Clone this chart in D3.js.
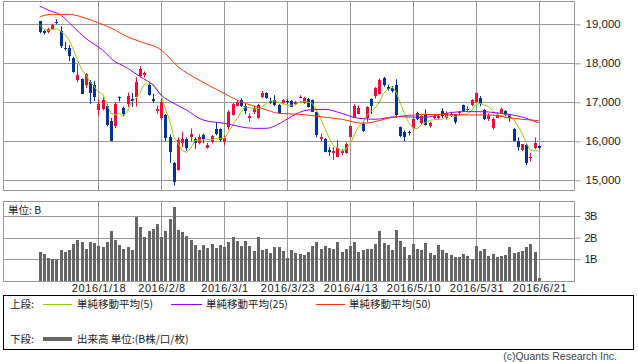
<!DOCTYPE html>
<html><head><meta charset="utf-8">
<script src="https://cdn.jsdelivr.net/npm/d3@7"></script>
<style>
body{margin:0;background:#fff}
svg{display:block}
text{font-family:"Liberation Sans","DejaVu Sans",sans-serif}
.jp{font-family:"Noto Sans CJK JP","Noto Sans CJK SC",sans-serif}
</style>
</head><body>
<svg id="c" width="638" height="362"></svg>
<script>
// ---- data (Nikkei-style daily candles) ----
const opens = [19080,18830,18800,18880,19060,18820,18400,18400,18140,17560,
17590,17450,17510,17450,16800,16820,16900,16530,16380,17130,
16860,16950,17090,17140,17670,17690,17440,17080,16780,16610,
16670,16100,15440,15270,15960,16050,16100,16060,15960,16150,
15840,15990,16320,16320,15990,16370,16670,16910,17050,16900,
16600,16750,16610,17130,17240,17030,17060,16920,16970,17030,
17030,16960,17110,16990,17090,17060,16750,16060,16070,15770,
15700,15600,15700,15690,16110,16610,16710,16450,16590,17080,
17150,17220,17630,17400,17360,17440,16370,16250,16240,16330,
16730,16470,16700,16390,16590,16600,16780,16600,16700,16690,
16720,16920,16820,16920,17010,17120,16810,16560,16330,16610,
16710,16770,16670,16320,16000,15770,15900,15590,15830,15880];
const highs = [19090,18850,18910,19010,19130,18950,18550,18470,18170,17975,
17610,17750,17570,17550,17090,17130,16960,16600,16990,17150,
16890,17250,17240,17640,17930,17790,17520,17220,16920,17090,
16700,16170,15470,16100,16240,16100,16330,16100,16180,16200,
15960,16160,16480,16330,16140,16800,16990,17060,17100,16960,
16720,16900,16960,17290,17260,17120,17180,16950,17080,17080,
17060,17030,17180,17140,17110,17070,16760,16200,16080,15850,
15850,16030,15800,15970,16400,16960,16920,16500,16900,17100,
17390,17610,17650,17450,17420,17590,16380,16280,16280,16600,
16760,16680,16820,16500,16700,16700,16850,16770,16760,16700,
16780,16940,16900,17080,17250,17160,16830,16710,16610,16730,
16860,16800,16700,16340,16100,15930,15950,15700,16100,15900];
const lows = [18770,18740,18770,18850,19000,18390,18330,18060,17760,17510,
17210,17370,16960,17030,16660,16790,16390,16000,16340,17020,
16650,16880,16880,16890,17640,17640,17170,16980,16700,16540,
16010,15450,14865,15250,15850,15760,16000,15810,15920,15950,
15810,15950,16150,15990,15900,16300,16660,16900,16880,16700,
16500,16700,16580,17110,17090,16950,16900,16700,16950,16960,
16880,16940,17100,16960,16870,16750,16100,16000,15720,15620,
15520,15590,15650,15680,16100,16600,16700,16240,16500,16700,
17100,17200,17400,17300,17250,16600,16100,16000,16150,16300,
16540,16440,16400,16350,16560,16560,16600,16560,16620,16440,
16680,16750,16780,16900,16990,16900,16540,16520,16300,16600,
16700,16640,16500,16000,15760,15750,15390,15490,15800,15790];
const closes = [18790,18769,18873,18982,19033,18451,18374,18191,17767,17698,
17219,17716,17241,17147,16956,17048,16416,16017,16959,17111,
16709,17164,17041,17518,17865,17751,17191,17045,16820,17004,
16085,15713,14953,16023,16054,15836,16197,15967,16111,16052,
15916,16140,16188,16027,16086,16747,16960,17015,16911,16783,
16642,16852,16939,17234,17117,16974,16936,16725,17049,17001,
16892,17003,17134,17104,16879,16759,16164,16123,15733,15715,
15750,15822,15751,15929,16381,16911,16848,16276,16874,16907,
17364,17572,17439,17353,17290,16666,16147,16107,16216,16565,
16579,16647,16412,16466,16653,16645,16646,16736,16655,16499,
16757,16772,16835,17068,17235,16956,16563,16642,16580,16675,
16831,16668,16601,16019,15859,15920,15434,15600,15965,15830];
// closes of the four sessions before the window (needed by the 5-day average)
const priorCloses = [19354,18987,18916,18887];
const volumes = [1.33,1.24,1.07,1.01,1.01,1.43,1.33,1.43,1.71,1.89,
1.80,1.47,1.80,1.75,1.61,1.57,1.80,2.31,1.89,1.66,
1.47,1.57,1.43,2.96,2.50,2.03,2.31,2.40,2.64,2.03,
2.31,2.87,3.43,2.36,2.26,2.08,1.89,1.66,1.43,1.66,
1.52,1.71,1.52,1.66,1.57,1.80,2.03,1.84,1.61,1.84,
1.61,1.38,2.03,1.43,1.47,1.29,1.57,1.57,1.38,1.05,
1.43,1.29,1.24,1.19,1.33,1.61,1.80,1.47,1.61,1.52,
1.47,1.80,1.33,1.47,1.61,1.80,1.33,1.43,1.47,1.47,
1.71,2.31,1.75,1.66,1.43,2.36,1.84,1.57,1.19,1.71,
1.47,1.43,1.75,1.29,1.19,1.66,1.43,1.29,1.19,1.10,
1.10,1.24,1.15,1.01,1.61,1.38,1.47,1.15,1.24,1.10,
1.15,1.19,1.57,1.29,1.33,1.38,1.57,1.71,1.33,0.11];
// 25- and 50-day averages (session index, value)
const ma25Idx = [0,2,5,8,11,15,18,20,24,27,29,32,35,39,44,51,54,58,60,64,68,72,76,80,85,92,96,101,105,110,114,119];
const ma25Val = [19469,19367,19238,18940,18641,18341,18041,17935,17656,17444,17187,16974,16803,16546,16462,16333,16333,16503,16631,16803,16820,16718,16590,16565,16631,16615,16700,16760,16760,16718,16650,16477];
const ma50Idx = [0,3,7,11,14,18,20,24,29,33,38,43,48,53,57,62,67,72,77,80,83,88,94,101,108,112,119];
const ma50Val = [19195,19256,19256,19154,19040,18854,18730,18554,18341,17913,17572,17285,17015,16846,16718,16692,16631,16564,16462,16503,16590,16665,16690,16678,16670,16600,16530];
const dateLabels = ["2016/1/18","2016/2/8","2016/3/1","2016/3/23","2016/4/13","2016/5/10","2016/5/31","2016/6/21"];
const dateLabelIdx = [14,29,44,59,74,89,104,119];
const priceTicks = [15000,16000,17000,18000,19000];
const volTicks = [1,2,3];

// ---- layout ----
const svg = d3.select("#c");
const L = 3, R = 574;
const pTop = 1, pBot = 190, vTop = 201, vBot = 281;
const gridCol = "#999", upCol = "#f20a3c", dnCol = "#003399";

const x = d3.scaleLinear().domain([0, 119]).range([39.6, 538.7]);
const y = d3.scaleLinear().domain([15000, 19000]).range([180.3, 24.3]);
const yv = d3.scaleLinear().domain([0, 3]).range([280.8, 216]);
const px = i => Math.round(x(i));

// grids
const g = svg.append("g");
g.selectAll(".hp").data(priceTicks).join("line")
  .attr("x1", L).attr("x2", R).attr("y1", d => Math.round(y(d)) + 0.5).attr("y2", d => Math.round(y(d)) + 0.5)
  .attr("stroke", gridCol);
g.selectAll(".hv").data(volTicks).join("line")
  .attr("x1", L).attr("x2", R).attr("y1", d => Math.round(yv(d)) + 0.5).attr("y2", d => Math.round(yv(d)) + 0.5)
  .attr("stroke", gridCol);
dateLabelIdx.forEach(i => {
  [[pTop, pBot], [vTop, vBot]].forEach(([a, b]) => {
    g.append("line").attr("x1", px(i) + 0.5).attr("x2", px(i) + 0.5).attr("y1", a).attr("y2", b).attr("stroke", gridCol);
  });
});
// frames
svg.append("rect").attr("x", L + 0.5).attr("y", pTop + 0.5).attr("width", R - L).attr("height", pBot - pTop)
  .attr("fill", "none").attr("stroke", gridCol);
svg.append("rect").attr("x", L + 0.5).attr("y", vTop + 0.5).attr("width", R - L).attr("height", vBot - vTop)
  .attr("fill", "none").attr("stroke", gridCol);

// right axes
const ax = d3.axisRight(y).tickValues(priceTicks).tickFormat(d3.format(",")).tickSize(6).tickPadding(5);
const axg = svg.append("g").attr("transform", `translate(${R + 0.5},0)`).call(ax);
axg.select(".domain").remove();
axg.selectAll("line").attr("stroke", gridCol);
axg.selectAll("text").attr("font-size", 11.5).attr("fill", "#222").attr("font-family", "Liberation Sans");
const avx = d3.axisRight(yv).tickValues(volTicks).tickFormat(d => d + "B").tickSize(6).tickPadding(4);
const avg = svg.append("g").attr("transform", `translate(${R + 0.5},0)`).call(avx);
avg.select(".domain").remove();
avg.selectAll("line").attr("stroke", gridCol);
avg.selectAll("text").attr("font-size", 11).attr("fill", "#222").attr("font-family", "Liberation Sans").attr("letter-spacing", "-0.5");

// volume bars
const idx = d3.range(closes.length);
svg.append("g").selectAll("rect").data(idx).join("rect")
  .attr("x", i => px(i) - 1).attr("width", 3)
  .attr("y", i => Math.round(yv(volumes[i])))
  .attr("height", i => Math.round(yv(0)) - Math.round(yv(volumes[i])))
  .attr("fill", "#666");

// candles
const cg = svg.append("g");
idx.forEach(i => {
  const up = closes[i] >= opens[i];
  const col = up ? upCol : dnCol;
  cg.append("line").attr("x1", px(i) + 0.5).attr("x2", px(i) + 0.5)
    .attr("y1", y(highs[i])).attr("y2", y(lows[i])).attr("stroke", col);
  const t = Math.round(y(Math.max(opens[i], closes[i])));
  const b = Math.round(y(Math.min(opens[i], closes[i])));
  cg.append("rect").attr("x", px(i) - 1).attr("width", 3)
    .attr("y", t).attr("height", Math.max(1, b - t)).attr("fill", col);
});

// moving averages
const all = priorCloses.concat(closes);
const ma5 = idx.map(i => d3.mean(all.slice(i, i + 5)));
const line = d3.line().x(d => x(d[0])).y(d => y(d[1]));
svg.append("path").datum(idx.map(i => [i, ma5[i]]))
  .attr("d", line).attr("fill", "none").attr("stroke", "#99cc00").attr("stroke-width", 1);
const lineC = d3.line().x(d => x(d[0])).y(d => y(d[1])).curve(d3.curveMonotoneX);
svg.append("path").datum(ma25Idx.map((k, j) => [k, ma25Val[j]]))
  .attr("d", lineC).attr("fill", "none").attr("stroke", "#9900ff").attr("stroke-width", 1);
svg.append("path").datum(ma50Idx.map((k, j) => [k, ma50Val[j]]))
  .attr("d", lineC).attr("fill", "none").attr("stroke", "#ff3300").attr("stroke-width", 1);

// unit label
svg.append("text").attr("class", "jp").attr("x", 8).attr("y", 214).attr("font-size", 10.5).attr("fill", "#222").text("単位: B");

// date labels
svg.append("g").selectAll("text").data(dateLabelIdx).join("text")
  .attr("x", i => px(i) + 1).attr("y", 292).attr("text-anchor", "middle")
  .attr("font-size", 11).attr("letter-spacing", "0.6").attr("fill", "#222")
  .text((i, j) => dateLabels[j]);

// legend
svg.append("rect").attr("x", 3.5).attr("y", 295.5).attr("width", 630).attr("height", 54)
  .attr("fill", "none").attr("stroke", "#000");
const ly1 = 304, ly2 = 339;
const lt = (xx, yy, s) => svg.append("text").attr("class", "jp").attr("x", xx).attr("y", yy + 4)
  .attr("font-size", 10.5).attr("fill", "#222").text(s);
lt(10, ly1, "上段:");
svg.append("line").attr("x1", 43).attr("x2", 72).attr("y1", ly1 + 0.5).attr("y2", ly1 + 0.5).attr("stroke", "#99cc00");
lt(77, ly1, "単純移動平均(5)");
svg.append("line").attr("x1", 171).attr("x2", 202).attr("y1", ly1 + 0.5).attr("y2", ly1 + 0.5).attr("stroke", "#9900ff");
lt(206, ly1, "単純移動平均(25)");
svg.append("line").attr("x1", 316).attr("x2", 345).attr("y1", ly1 + 0.5).attr("y2", ly1 + 0.5).attr("stroke", "#ff3300");
lt(349, ly1, "単純移動平均(50)");
lt(10, ly2, "下段:");
svg.append("line").attr("x1", 43).attr("x2", 72).attr("y1", ly2).attr("y2", ly2).attr("stroke", "#666").attr("stroke-width", 4);
lt(77, ly2, "出来高 単位:(B株/口/枚)");

svg.append("text").attr("x", 617).attr("y", 360).attr("text-anchor", "end")
  .attr("font-size", 10.5).attr("fill", "#444").text("(c)Quants Research Inc.");
</script>
</body></html>
